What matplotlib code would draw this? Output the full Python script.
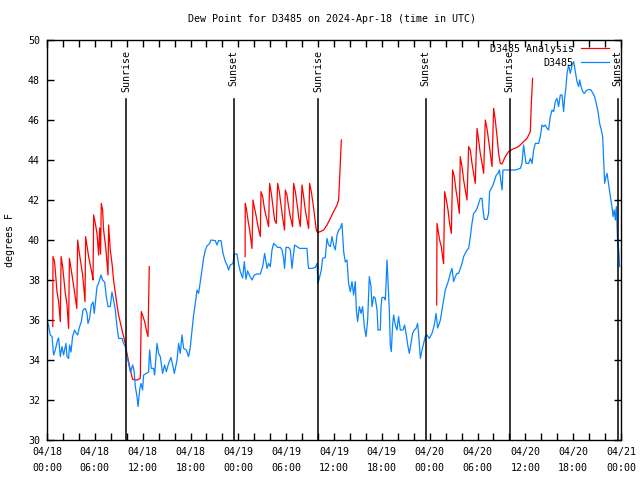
import numpy as np
import matplotlib
matplotlib.use('Agg')
import matplotlib.pyplot as plt
import matplotlib.dates as mdates
from datetime import datetime, timedelta

# hours since 2024-04-18 00:00 UTC
start = datetime(2024, 4, 18, 0, 0)

obs_hours = [0.13, 0.41, 0.63, 0.83, 1.04, 1.33, 1.46, 1.67, 1.88, 2.08, 2.38, 2.51, 2.71, 2.83,
             3.01, 3.21, 3.46, 3.68, 3.84, 4.09, 4.30, 4.52, 4.80, 5.02, 5.14, 5.34, 5.56, 5.77,
             5.93, 6.15, 6.27, 6.47, 6.77, 6.97, 7.23, 7.44, 7.65, 7.94, 8.15, 8.35, 8.57, 8.78,
             8.98, 9.41, 9.61, 9.82, 10.04, 10.24, 10.45, 10.57, 10.74, 10.91, 11.08, 11.29,
             11.42, 11.62, 11.79, 11.99, 12.12, 12.46, 12.74, 12.87, 13.08, 13.37, 13.50, 13.80,
             14.00, 14.21, 14.50, 14.75, 14.97, 15.25, 15.55, 15.76, 15.97, 16.31, 16.51, 16.72,
             16.93, 17.14, 17.47, 17.76, 17.98, 18.19, 18.39, 18.60, 18.82, 19.02, 19.23, 19.44,
             19.64, 19.86, 20.07, 20.40, 20.57, 21.11, 21.32, 21.53, 21.83, 22.08, 22.37, 22.58,
             22.78, 22.99, 23.33, 23.50, 23.83, 24.03, 24.25, 24.54, 24.75, 24.96, 25.16, 25.38,
             25.72, 26.00, 26.34, 26.76, 27.05, 27.30, 27.47, 27.60, 27.80, 28.01, 28.22, 28.43,
             28.64, 28.93, 29.27, 29.48, 29.68, 29.80, 29.98, 30.31, 30.52, 30.73, 30.86, 31.06,
             31.36, 31.69, 32.19, 32.61, 32.74, 32.82, 33.24, 33.66, 33.87, 33.99, 34.16, 34.41,
             34.57, 34.91, 35.12, 35.32, 35.54, 35.75, 35.95, 36.16, 36.38, 36.58, 36.79, 37.00,
             37.13, 37.21, 37.42, 37.63, 37.83, 38.05, 38.26, 38.46, 38.67, 38.80, 38.96, 39.18,
             39.39, 39.59, 39.80, 40.02, 40.22, 40.43, 40.64, 40.77, 40.97, 41.18, 41.40, 41.52,
             41.81, 41.90, 42.02, 42.31, 42.44, 42.65, 42.78, 42.94, 43.06, 43.19, 43.35, 43.48,
             43.69, 43.90, 44.10, 44.32, 44.66, 44.86, 45.07, 45.28, 45.45, 45.66, 45.86, 46.07,
             46.29, 46.49, 46.61, 46.83, 47.04, 47.24, 47.45, 47.67, 47.96, 48.29, 48.58, 48.80,
             49.00, 49.21, 49.34, 49.55, 49.75, 49.96, 50.18, 50.38, 50.59, 50.80, 51.00, 51.22,
             51.43, 51.63, 51.84, 52.06, 52.26, 52.47, 52.68, 52.89, 53.10, 53.31, 53.51, 53.73,
             53.94, 54.14, 54.35, 54.57, 54.69, 54.86, 55.19, 55.39, 55.52, 55.73, 55.95, 56.15,
             56.36, 56.57, 56.74, 56.86, 56.99, 57.08, 57.20, 57.90, 58.74, 59.37, 59.58, 59.78,
             59.91, 60.09, 60.41, 60.63, 60.84, 61.04, 61.25, 61.67, 61.88, 62.09, 62.29, 62.51,
             62.72, 62.92, 63.13, 63.35, 63.55, 63.76, 63.97, 64.17, 64.39, 64.60, 64.80, 64.93,
             65.10, 65.23, 65.43, 65.64, 65.86, 66.06, 66.27, 66.48, 66.69, 66.81, 66.99, 67.19,
             67.40, 67.65, 67.94, 68.24, 68.49, 68.69, 68.90, 69.12, 69.32, 69.53, 69.70, 69.82,
             69.95, 70.12, 70.25, 70.37, 70.54, 70.67, 70.87, 71.00, 71.16, 71.29, 71.42, 71.50,
             71.58, 71.71, 71.83]
obs_dewpt = [35.85, 35.25, 35.17, 34.25, 34.5, 35.0, 35.1, 34.17, 34.67, 34.25, 34.83, 34.17, 34.08, 34.75,
             34.4, 35.17, 35.5, 35.33, 35.25, 35.67, 35.9, 36.5, 36.58, 36.33, 35.83, 36.08, 36.75, 36.9,
             36.33, 37.17, 37.67, 37.83, 38.25, 38.0, 37.9, 37.17, 36.67, 36.67, 37.4, 37.0, 36.5, 35.67,
             35.08, 35.08, 34.83, 34.67, 34.17, 33.83, 33.4, 33.5, 33.75, 33.5, 32.67, 32.17,
             31.67, 32.5, 32.83, 32.5, 33.25, 33.33, 33.4, 34.5, 33.58, 33.58, 33.25, 34.83,
             34.33, 34.17, 33.33, 33.75, 33.42, 33.83, 34.13, 33.75, 33.33, 34.0, 34.83, 34.33,
             35.25, 34.58, 34.5, 34.17, 34.67, 35.5, 36.25, 36.83, 37.5, 37.33, 37.9, 38.5,
             39.08, 39.5, 39.7, 39.83, 40.0, 39.97, 39.75, 39.97, 39.97, 39.33, 38.92, 38.75,
             38.5, 38.75, 38.83, 39.3, 39.3, 38.8, 38.42, 38.1, 38.92, 38.04, 38.46, 38.25,
             38.0, 38.25, 38.3, 38.3, 38.67, 39.33, 38.92, 38.58, 38.83, 38.67, 39.5, 39.83,
             39.75, 39.63, 39.63, 39.5, 39.08, 38.58, 39.63, 39.63, 39.5, 38.58, 39.08, 39.75,
             39.67, 39.58, 39.58, 39.58, 38.83, 38.58, 38.58, 38.63, 38.83, 37.83, 38.08, 38.5,
             39.08, 39.13, 40.08, 39.75, 39.67, 40.17, 39.75, 39.5, 40.25, 40.5, 40.58, 40.83,
             40.0, 39.42, 38.9, 39.0, 37.83, 37.42, 37.92, 37.25, 37.92, 36.5, 35.92, 36.67,
             36.33, 36.67, 35.67, 35.17, 36.0, 38.17, 37.67, 36.67, 37.17, 37.08, 36.5, 35.5,
             35.5, 36.67, 37.13, 37.13, 37.0, 39.0, 37.92, 36.5, 34.75, 34.42, 35.75, 36.25,
             35.75, 35.5, 36.17, 35.5, 35.5, 35.75, 35.25, 34.67, 34.33, 34.83, 35.33, 35.5,
             35.58, 35.83, 35.33, 34.08, 34.5, 34.83, 35.17, 35.25, 35.08, 35.33, 35.75, 36.33,
             35.6, 35.83, 36.0, 36.5, 37.0, 37.5, 37.75, 38.0, 38.33, 38.58, 37.92, 38.17,
             38.33, 38.33, 38.58, 38.83, 39.17, 39.33, 39.5, 39.58, 40.17, 40.83, 41.33, 41.42,
             41.58, 41.83, 42.08, 42.08, 41.5, 41.03, 41.03, 41.33, 42.42, 42.58, 42.75, 43.0,
             43.25, 43.33, 43.5, 43.17, 42.75, 42.5, 43.5, 43.5, 43.5, 43.58, 43.83, 44.75,
             44.33, 43.83, 43.83, 44.08, 43.83, 44.5, 44.83, 44.83, 45.17, 45.75, 45.67, 45.75,
             45.58, 45.5, 46.17, 46.5, 46.42, 46.92, 47.08, 46.67, 47.25, 47.25, 46.42, 47.08,
             47.67, 48.33, 48.75, 48.33, 48.75, 48.92, 48.42, 47.92, 47.67, 48.0, 47.67, 47.42,
             47.33, 47.47, 47.53, 47.5, 47.33, 47.17, 46.83, 46.42, 45.83, 45.5, 45.17, 44.0,
             42.83, 43.17, 43.33, 43.0, 42.5, 42.17, 41.67, 41.17, 41.5, 41.0, 41.67, 40.83,
             39.83, 39.5, 38.67]

# analysis, three morning runs (NaN splits them)
ana_hours = [0.73, 0.75, 0.95, 1.25, 1.46, 1.67, 1.77, 1.96, 2.30, 2.51, 2.71, 2.81, 3.01, 3.42, 3.74,
             3.84, 4.09, 4.47, 4.77, 4.84, 5.22, 5.64, 5.77, 5.85, 6.06, 6.27, 6.48, 6.60, 6.72,
             6.81, 6.98, 7.10, 7.40, 7.65, 7.73, 7.94, 8.19, 8.35, 8.78, 8.98, 9.41, 9.82, 10.03,
             10.45, 10.74, 11.29, 11.70, 11.83, 12.25, 12.46, 12.67, 12.83,
             np.nan,
             24.85, 24.87, 25.00, 25.21, 25.42, 25.71, 25.84, 26.04, 26.25, 26.47, 26.76, 26.84,
             27.05, 27.30, 27.60, 27.80, 27.92, 28.14, 28.35, 28.55, 28.76, 28.93, 29.14, 29.35,
             29.60, 29.80, 29.89, 30.10, 30.30, 30.52, 30.81, 30.94, 31.15, 31.36, 31.56, 31.77,
             31.99, 32.19, 32.40, 32.62, 32.82, 32.94, 33.15, 33.37, 33.57, 33.78, 33.95, 34.28,
             34.70, 35.12, 35.54, 35.95, 36.38, 36.58, 36.70, 36.92,
             np.nan,
             48.88, 48.92, 49.05, 49.25, 49.46, 49.67, 49.75, 49.88, 50.09, 50.30, 50.50, 50.72,
             50.88, 51.09, 51.30, 51.50, 51.72, 51.84, 52.06, 52.26, 52.47, 52.68, 52.89, 53.10,
             53.31, 53.51, 53.72, 53.94, 54.14, 54.35, 54.57, 54.77, 54.98, 55.19, 55.39, 55.61,
             55.82, 56.02, 56.23, 56.45, 56.65, 56.86, 57.07, 57.49, 57.90, 58.33, 58.96, 59.37,
             59.78, 60.21, 60.63, 60.75, 60.91]
ana_dewpt = [35.67, 39.17, 38.92, 37.42, 36.92, 35.92, 39.17, 38.67, 37.33, 36.75, 35.58, 39.08, 38.58, 37.5, 36.58,
             40.0, 39.25, 38.25, 36.92, 40.17, 39.17, 38.33, 38.0, 41.25, 40.83, 40.33, 39.25, 40.6, 39.3,
             41.83, 41.5, 40.5, 39.5, 38.25, 40.75, 39.5, 38.7, 38.0, 36.75, 36.25, 35.5, 34.83, 34.33,
             33.5, 33.03, 33.0, 33.08, 36.42, 35.92, 35.5, 35.17, 38.67,
             np.nan,
             39.17, 41.83, 41.58, 41.0, 40.5, 39.58, 42.0, 41.58, 41.17, 40.67, 40.17, 42.42,
             42.17, 41.5, 41.0, 40.67, 42.83, 42.33, 41.67, 41.0, 40.83, 42.83, 42.42, 41.75,
             41.0, 40.5, 42.5, 42.25, 41.67, 41.17, 40.67, 42.83, 42.42, 41.83, 41.17, 40.67,
             42.75, 42.17, 41.5, 41.0, 40.58, 42.83, 42.42, 41.83, 41.17, 40.5, 40.37, 40.42,
             40.5, 40.75, 41.08, 41.42, 41.75, 42.0, 43.0, 45.0,
             np.nan,
             36.75, 40.83, 40.5, 40.0, 39.67, 39.0, 38.83, 42.42, 42.0, 41.5, 40.83, 40.33,
             43.5, 43.17, 42.5, 42.0, 41.33, 44.17, 43.67, 43.0, 42.5, 42.0, 44.67, 44.5,
             43.83, 43.33, 42.83, 45.58, 45.0, 44.33, 43.83, 43.33, 46.0, 45.58, 45.0, 44.33,
             43.67, 46.58, 46.0, 45.17, 44.33, 43.83, 43.8, 44.17, 44.42, 44.53, 44.63, 44.75,
             44.92, 45.08, 45.42, 46.83, 48.08]

sunrise_hours = [9.95, 34.05, 58.03]
sunset_hours = [23.4, 47.5, 71.57]


def to_num(hours):
    # hours after start -> matplotlib date numbers, NaN stays NaN (line gaps)
    base = mdates.date2num(start)
    return base + np.asarray(hours, dtype=float) / 24.0


plt.rcParams['font.family'] = ['DejaVu Sans Mono']
plt.rcParams['font.size'] = 7.2

fig = plt.figure(figsize=(6.4, 4.8), dpi=100)
ax = fig.add_axes([47 / 640, 40 / 480, 574 / 640, 400 / 480])

ax.plot(to_num(ana_hours), ana_dewpt, color='#ff0000', lw=0.9, label='D3485 Analysis')
ax.plot(to_num(obs_hours), obs_dewpt, color='#0a84ff', lw=0.9, label='D3485')

for hours, name in [(sunrise_hours, 'Sunrise'), (sunset_hours, 'Sunset')]:
    for t in to_num(hours):
        ax.axvline(t, ymin=0, ymax=0.8525, color='black', lw=1.1)
        ax.text(t, 0.975, name, rotation=90, ha='center', va='top',
                transform=ax.get_xaxis_transform())

ax.set_xlim(to_num([0, 72]))
ax.set_ylim(30, 50)
ax.set_yticks(np.arange(30, 51, 2))
ax.xaxis.set_major_locator(mdates.HourLocator(byhour=[0, 6, 12, 18]))
ax.xaxis.set_minor_locator(mdates.HourLocator(interval=2))
ax.xaxis.set_major_formatter(mdates.DateFormatter('%m/%d\n%H:%M'))
ax.tick_params(which='both', direction='in', length=5, width=1.0, top=True, right=True)
ax.tick_params(axis='y', pad=5)
ax.tick_params(axis='x', pad=5)
for lab in ax.get_xticklabels():
    lab.set_linespacing(1.75)
for s in ax.spines.values():
    s.set_linewidth(1.0)

ax.legend(loc='upper right', bbox_to_anchor=(1 - 12 / 574, 1 - 4 / 400), frameon=False,
          markerfirst=False, handlelength=2.8, handletextpad=0.75, borderpad=0,
          borderaxespad=0, labelspacing=0.4)

fig.text(332 / 640, 1 - 19 / 480, 'Dew Point for D3485 on 2024-Apr-18 (time in UTC)',
         ha='center', va='center')
fig.text(10 / 640, 0.5, 'degrees F', rotation=90, ha='center', va='center')

fig.savefig('out.png', dpi=100)
